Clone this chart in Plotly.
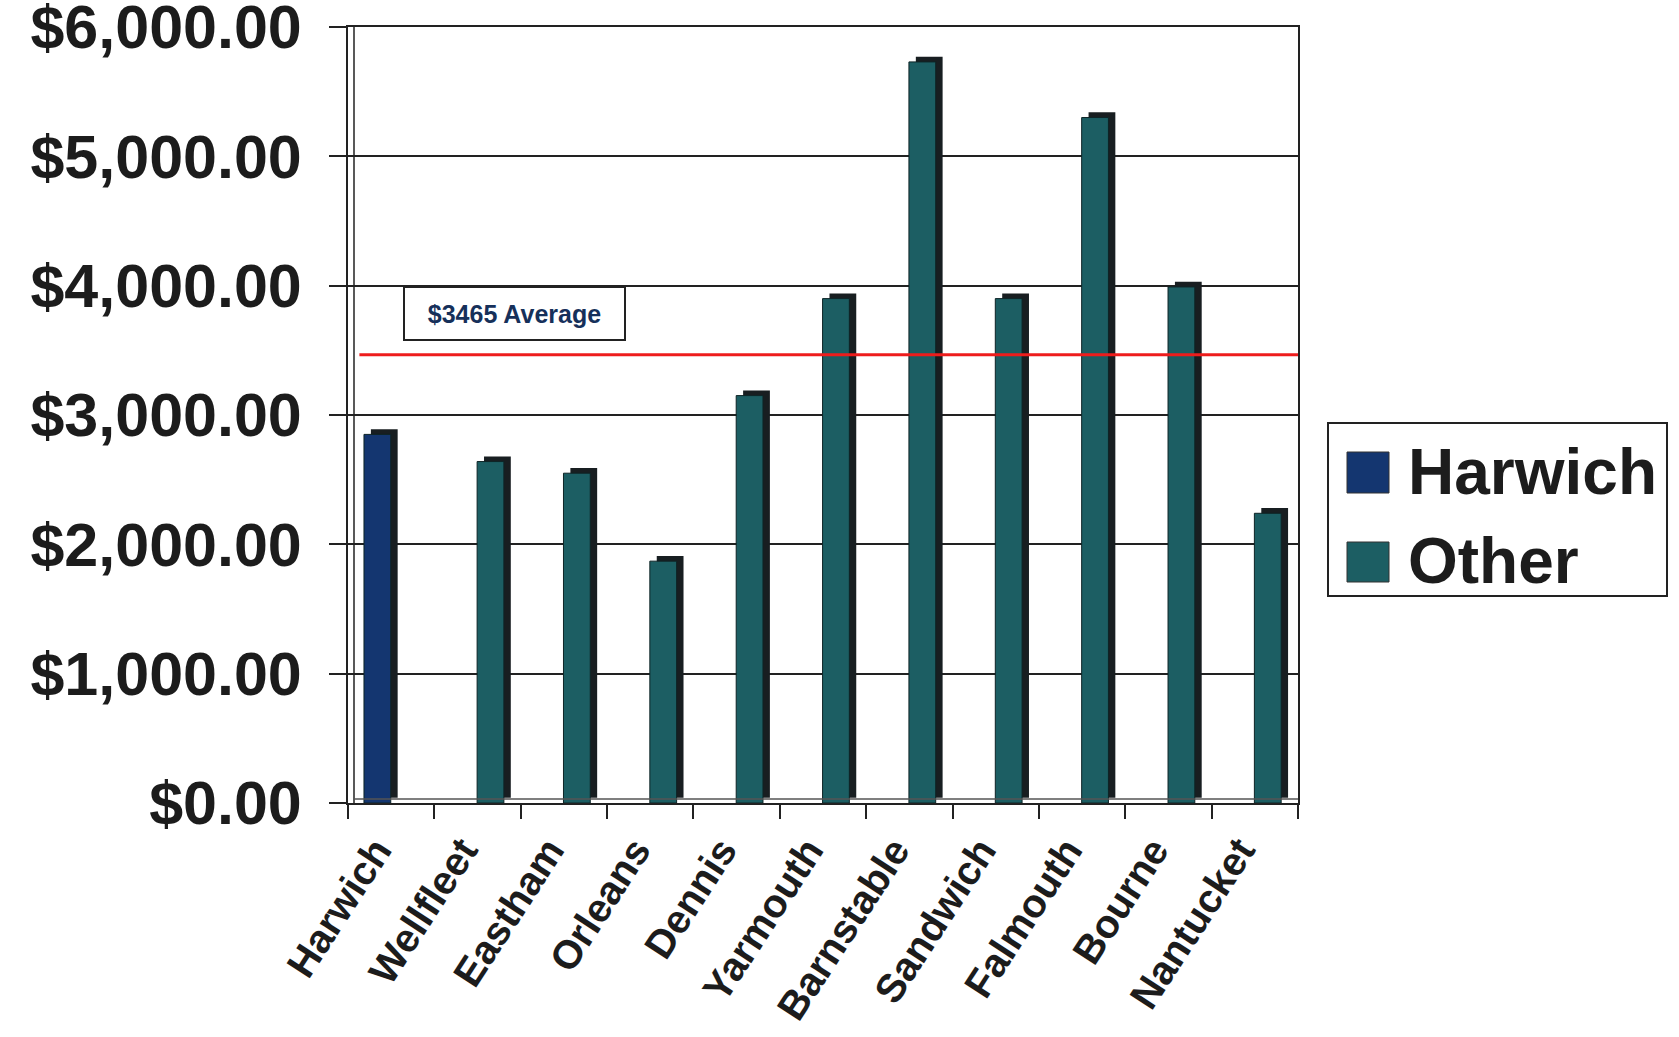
import plotly.graph_objects as go

# ---------------- data ----------------
towns = ["Harwich", "Wellfleet", "Eastham", "Orleans", "Dennis", "Yarmouth",
         "Barnstable", "Sandwich", "Falmouth", "Bourne", "Nantucket"]
harwich_values = [2850, None, None, None, None, None, None, None, None, None, None]
other_values = [None, 2640, 2550, 1870, 3150, 3900, 5730, 3900, 5300, 3990, 2240]
average_value = 3465
average_label = "$3465 Average"
series_names = ["Harwich", "Other"]
y_ticks = [0, 1000, 2000, 3000, 4000, 5000, 6000]
y_tick_labels = ["${:,.2f}".format(v) for v in y_ticks]

# ---------------- style ----------------
W, H = 1679, 1037
L, R, T, B = 348, 381, 27, 234
PW, PH = W - L - R, H - T - B

HARWICH_COLOR = "#143670"
OTHER_COLOR = "#1c5e63"
SIDE_COLOR = "#181e21"
TEXT_COLOR = "#1c1c1c"
FONT = "Liberation Sans"

BAR_W = 0.31
DEPTH_X = 0.08
DEPTH_Y = 40


def px(x):
    return (x - L) / PW


def py(y):
    return (H - B - y) / PH


fig = go.Figure()

# 3D-ish depth (side/top faces) drawn behind the front faces
for vals, off in [(harwich_values, -0.315), (other_values, -0.005)]:
    fig.add_trace(go.Bar(
        x=towns, y=vals, base=DEPTH_Y, width=BAR_W, offset=off + DEPTH_X,
        marker=dict(color=SIDE_COLOR, line=dict(width=0)),
        showlegend=False, hoverinfo="skip"))

for name, vals, col, off in [(series_names[0], harwich_values, HARWICH_COLOR, -0.315),
                             (series_names[1], other_values, OTHER_COLOR, -0.005)]:
    fig.add_trace(go.Bar(
        x=towns, y=vals, name=name, width=BAR_W, offset=off,
        marker=dict(color=col, line=dict(color="#0e2426", width=1)),
        showlegend=False))

# average line
fig.add_shape(type="line", xref="x domain", yref="y", x0=0.012, x1=1,
              y0=average_value, y1=average_value,
              line=dict(color="#ee1c1c", width=3))

# average label box
fig.add_annotation(x=px(514), y=py(313), xref="paper", yref="paper",
                   xanchor="center", yanchor="middle",
                   text="<b>" + average_label + "</b>", showarrow=False,
                   font=dict(family=FONT, size=25, color="#16305a"),
                   bordercolor="#222", borderwidth=2, borderpad=4,
                   width=211, height=43, bgcolor="white")

# back wall left edge (3D wall thickness)
fig.add_shape(type="line", xref="paper", yref="paper", x0=px(354), x1=px(354),
              y0=0, y1=1, line=dict(color="#222", width=1.5))
# floor back edge
fig.add_shape(type="line", xref="paper", yref="paper", x0=px(354), x1=1,
              y0=py(799), y1=py(799), line=dict(color="#555", width=1.5))

# custom legend
fig.add_shape(type="rect", xref="paper", yref="paper",
              x0=px(1328), x1=px(1667), y0=py(596), y1=py(423),
              line=dict(color="#222", width=2), fillcolor="white")
for name, col, top, bot, cy in [(series_names[0], HARWICH_COLOR, 452, 493, 472),
                                (series_names[1], OTHER_COLOR, 542, 582, 561)]:
    fig.add_shape(type="rect", xref="paper", yref="paper",
                  x0=px(1347), x1=px(1389), y0=py(bot), y1=py(top),
                  line=dict(color="#333", width=1), fillcolor=col)
    fig.add_annotation(x=px(1406), y=py(cy), xref="paper", yref="paper",
                       xanchor="left", yanchor="middle", showarrow=False,
                       text="<b>" + name + "</b>",
                       font=dict(family=FONT, size=64, color=TEXT_COLOR))

fig.update_layout(
    width=W, height=H,
    margin=dict(l=L, r=R, t=T, b=B, pad=0, autoexpand=False),
    paper_bgcolor="white", plot_bgcolor="white",
    barmode="overlay",
    showlegend=False,
    xaxis=dict(
        type="category", range=[-0.5, len(towns) - 0.5], automargin=False,
        showline=True, mirror=True, linecolor="#222", linewidth=2,
        ticks="outside", ticklen=14, tickwidth=2, tickcolor="#222",
        tickson="boundaries", tickangle=-57, showgrid=False,
        ticklabelshift=-15, ticklabelstandoff=6, ticklabeloverflow="allow",
        tickfont=dict(family=FONT, size=40, color=TEXT_COLOR, weight="bold"),
    ),
    yaxis=dict(
        range=[0, 6000], tickmode="array", tickvals=y_ticks, ticktext=y_tick_labels,
        automargin=False,
        showline=True, mirror=True, linecolor="#222", linewidth=2,
        ticks="outside", ticklen=17, tickwidth=2, tickcolor="#222",
        showgrid=True, gridcolor="#222", gridwidth=1.5, zeroline=False,
        ticklabelstandoff=15, ticklabeloverflow="allow",
        tickfont=dict(family=FONT, size=61, color=TEXT_COLOR, weight="bold"),
    ),
)

fig.write_html("out.html")
